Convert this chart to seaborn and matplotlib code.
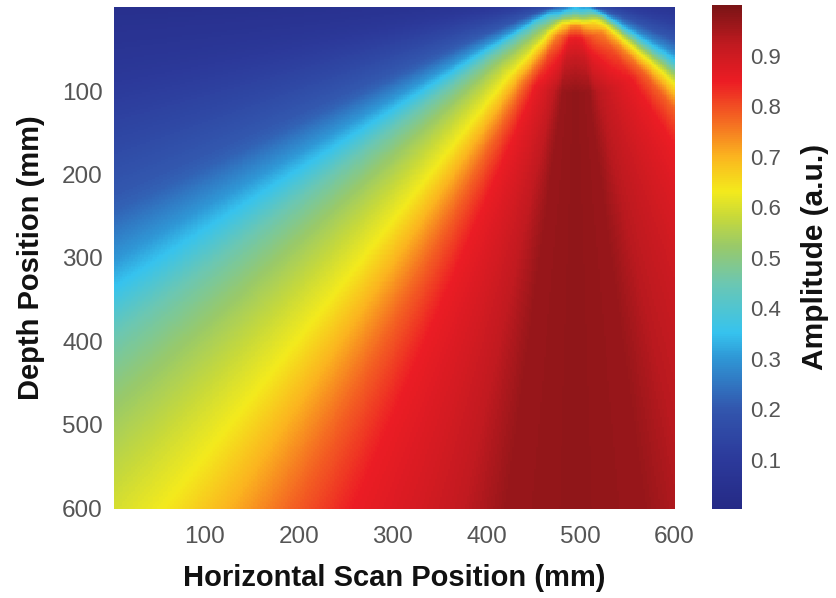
import numpy as np
import pandas as pd
import matplotlib
matplotlib.use("Agg")
import matplotlib.pyplot as plt
import seaborn as sns
from matplotlib.colors import LinearSegmentedColormap

# Beam directivity: normalised amplitude vs. angle from the source (deg, + to the right)
beam_angle_deg = [-90, -80, -70, -62, -57, -54, -50, -45, -40, -35.5, -31, -26, -21,
                  -15, -11, -7, 0, 7, 11, 20, 30, 37, 40, 44, 48, 52, 56, 62, 70, 80, 90]
beam_amplitude = [0.03, 0.08, 0.15, 0.22, 0.30, 0.36, 0.45, 0.52, 0.58, 0.63, 0.70, 0.78, 0.85,
                  0.89, 0.92, 0.965, 0.975, 0.965, 0.93, 0.89, 0.85, 0.78, 0.72, 0.63, 0.50, 0.37,
                  0.28, 0.20, 0.13, 0.07, 0.03]

# Near-field ramp: amplitude factor vs. distance from the source (mm)
near_dist_mm = [0, 20, 30, 40, 55, 80, 120, 1000]
near_factor = [0.30, 0.37, 0.56, 0.76, 0.88, 0.94, 1.0, 1.0]

source_x_mm = 495
source_depth_mm = -18

x_mm = np.arange(4, 601, 2)
depth_mm = np.arange(0, 601, 2)

x_ticks = [100, 200, 300, 400, 500, 600]
depth_ticks = [100, 200, 300, 400, 500, 600]
cbar_ticks = [0.1, 0.2, 0.3, 0.4, 0.5, 0.6, 0.7, 0.8, 0.9]

# Amplitude field on the scan grid
X, D = np.meshgrid(x_mm, depth_mm)
dx = X - source_x_mm
dd = D - source_depth_mm
theta = np.degrees(np.arctan2(dx, dd))
r = np.hypot(dx, dd)
field = np.interp(theta, beam_angle_deg, beam_amplitude) * np.interp(r, near_dist_mm, near_factor)
df = pd.DataFrame(field, index=depth_mm, columns=x_mm)

cmap = LinearSegmentedColormap.from_list("beam", [
    (0.00, "#252a86"), (0.10, "#2c3a9b"), (0.20, "#3257ae"), (0.30, "#2f98d6"),
    (0.35, "#36c3ee"), (0.45, "#6dc7b0"), (0.52, "#98c96a"), (0.58, "#c7d93a"),
    (0.63, "#f3ea1c"), (0.70, "#fbb51f"), (0.77, "#f46a22"), (0.85, "#ec1c24"),
    (0.92, "#c21a20"), (1.00, "#7b1416"),
])

fig = plt.figure(figsize=(8.37, 5.98), dpi=100)
ax = fig.add_axes([114 / 837, 1 - 509 / 598, 561 / 837, 502 / 598])
cax = fig.add_axes([712 / 837, 1 - 509 / 598, 30 / 837, 504 / 598])

sns.heatmap(df, ax=ax, cbar_ax=cax, cmap=cmap, vmin=0.003, vmax=1.0,
            xticklabels=False, yticklabels=False, rasterized=True)

x_step = x_mm[1] - x_mm[0]
d_step = depth_mm[1] - depth_mm[0]
ax.set_xticks([(v - x_mm[0]) / x_step + 0.5 for v in x_ticks])
ax.set_xticklabels([str(v) for v in x_ticks])
ax.set_yticks([(v - depth_mm[0]) / d_step + 0.5 for v in depth_ticks])
ax.set_yticklabels([str(v) for v in depth_ticks], rotation=0)

font = "Liberation Sans"
tick_color = "#555555"
label_color = "#111111"
for lab in ax.get_xticklabels() + ax.get_yticklabels():
    lab.set_family(font)
    lab.set_fontsize(17.5)
    lab.set_color(tick_color)
ax.tick_params(axis="x", length=0, pad=12)
ax.tick_params(axis="y", length=0, pad=8)

ax.set_xlabel("Horizontal Scan Position (mm)", family=font, fontsize=21,
              fontweight="bold", color=label_color)
ax.set_ylabel("Depth Position (mm)", family=font, fontsize=21,
              fontweight="bold", color=label_color)
ax.xaxis.set_label_coords(0.5, -0.137)
ax.yaxis.set_label_coords(-0.148, 0.5)
ax.xaxis.label.set_va("center")
ax.yaxis.label.set_va("center")

cbar = ax.collections[0].colorbar
cbar.set_ticks(cbar_ticks)
cbar.set_ticklabels([f"{v:.1f}" for v in cbar_ticks])
cbar.outline.set_visible(False)
cax.tick_params(length=0, pad=6)
for lab in cax.get_yticklabels():
    lab.set_family(font)
    lab.set_fontsize(16)
    lab.set_color(tick_color)
cbar.set_label("Amplitude (a.u.)", family=font, fontsize=21.5, fontweight="bold",
               color=label_color)
cax.yaxis.set_label_coords(3.43, 0.5)
cax.yaxis.label.set_va("center")

fig.savefig("out.png", dpi=100)
